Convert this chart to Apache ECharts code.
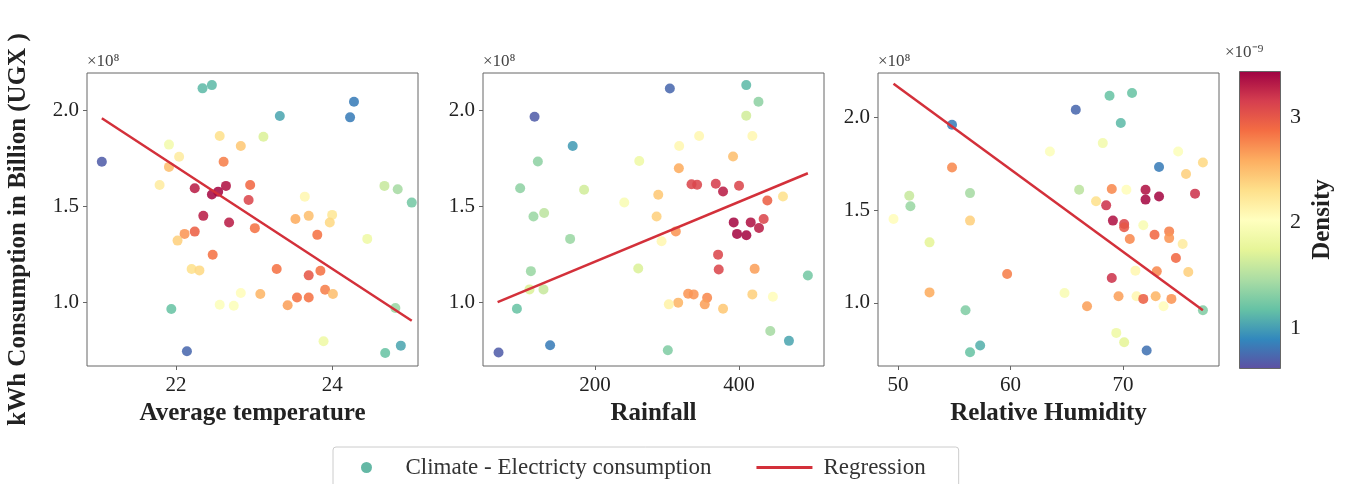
<!DOCTYPE html>
<html>
<head>
<meta charset="utf-8">
<script src="https://cdn.jsdelivr.net/npm/echarts@6/dist/echarts.min.js"></script>
<style>
  html, body { margin: 0; padding: 0; background: #fff; }
  #main { width: 1351px; height: 484px; }
</style>
</head>
<body>
<div id="main"></div>
<script>
// consumption in units of 1e8, density in units of 1e-9
// [x, consumption, density]
var tempPoints = [
  [22.34, 2.113, 1.15], [22.46, 2.13, 1.15], [24.28, 2.043, 0.85], [24.23, 1.962, 0.85],
  [23.33, 1.969, 1.05], [23.12, 1.861, 1.7], [22.56, 1.865, 2.3], [22.83, 1.813, 2.45],
  [21.91, 1.82, 1.9], [22.04, 1.757, 2.2], [21.05, 1.731, 0.7], [21.91, 1.704, 2.5],
  [22.61, 1.731, 2.8], [21.79, 1.61, 2.2], [22.24, 1.593, 3.3], [22.46, 1.56, 3.4],
  [22.54, 1.575, 3.4], [22.64, 1.605, 3.35], [22.95, 1.61, 2.9], [22.93, 1.532, 3.1],
  [22.35, 1.449, 3.3], [22.68, 1.414, 3.3], [23.01, 1.385, 2.85], [22.24, 1.367, 2.95],
  [22.11, 1.355, 2.7], [22.02, 1.32, 2.4], [23.65, 1.549, 2.1], [23.53, 1.433, 2.6],
  [23.70, 1.449, 2.5], [24.0, 1.454, 2.25], [23.97, 1.414, 2.35], [23.81, 1.35, 2.85],
  [24.45, 1.329, 1.85], [24.67, 1.605, 1.6], [24.84, 1.588, 1.45], [25.02, 1.518, 1.25],
  [22.47, 1.246, 2.85], [22.2, 1.172, 2.3], [22.3, 1.165, 2.35], [23.29, 1.172, 2.85],
  [23.70, 1.139, 3.0], [23.85, 1.163, 2.85], [22.83, 1.047, 2.05], [23.08, 1.042, 2.55],
  [22.56, 0.986, 2.0], [22.74, 0.981, 2.0], [23.43, 0.983, 2.65], [23.55, 1.024, 2.85],
  [23.70, 1.024, 2.85], [23.91, 1.064, 2.8], [24.01, 1.042, 2.5], [24.81, 0.969, 1.4],
  [21.94, 0.964, 1.2], [22.14, 0.744, 0.75], [23.89, 0.796, 1.85], [24.68, 0.735, 1.2],
  [24.88, 0.773, 1.05]
];
var rainPoints = [
  [66, 0.737, 0.7], [137.6, 0.775, 0.85], [116, 1.965, 0.7], [303.9, 2.112, 0.75],
  [410, 2.13, 1.15], [427, 2.043, 1.35], [410, 1.971, 1.65], [169, 1.813, 1.0],
  [120.6, 1.732, 1.35], [96, 1.593, 1.35], [114.5, 1.446, 1.4], [129.3, 1.464, 1.55],
  [184.8, 1.585, 1.65], [165.4, 1.329, 1.4], [261.4, 1.735, 1.85], [240.6, 1.519, 1.95],
  [110.9, 1.161, 1.4], [109, 1.066, 1.7], [128.4, 1.066, 1.6], [91.5, 0.965, 1.2],
  [260, 1.175, 1.7], [287.8, 1.559, 2.45], [285.5, 1.446, 2.4], [292.4, 1.317, 2.1],
  [316.4, 1.697, 2.6], [316.9, 1.813, 2.1], [344.6, 1.865, 2.1], [312.2, 1.368, 2.7],
  [334, 1.614, 3.1], [341.8, 1.611, 3.1], [367.7, 1.616, 3.15], [377.8, 1.576, 3.3],
  [400, 1.606, 3.1], [391.7, 1.758, 2.5], [418.5, 1.865, 2.1], [439.3, 1.529, 2.95],
  [461, 1.55, 2.3], [392.6, 1.415, 3.4], [416.2, 1.415, 3.35], [427.7, 1.386, 3.3],
  [434.2, 1.433, 3.1], [397.2, 1.355, 3.4], [410.2, 1.348, 3.4], [370.9, 1.247, 3.1],
  [371.8, 1.17, 3.1], [421.7, 1.173, 2.65], [329.3, 1.043, 2.7], [337, 1.04, 2.7],
  [355.7, 1.022, 2.75], [352.4, 0.988, 2.65], [315.5, 0.997, 2.55], [302.5, 0.988, 2.15],
  [377.8, 0.965, 2.45], [418.5, 1.04, 2.4], [447, 1.028, 2.05], [495.6, 1.138, 1.25],
  [443.4, 0.849, 1.45], [469.3, 0.798, 1.05], [301.1, 0.749, 1.3]
];
var humidPoints = [
  [49.6, 1.452, 2.05], [51.0, 1.577, 1.6], [51.1, 1.52, 1.4], [52.8, 1.326, 1.75],
  [52.8, 1.057, 2.6], [54.8, 1.959, 0.85], [54.8, 1.729, 2.75], [56.4, 1.591, 1.45],
  [56.4, 1.443, 2.4], [56.0, 0.961, 1.3], [56.4, 0.735, 1.2], [57.3, 0.771, 1.1],
  [59.7, 1.156, 2.8], [63.5, 1.815, 2.0], [64.8, 1.054, 1.95], [65.8, 2.039, 0.75],
  [66.1, 1.609, 1.55], [66.8, 0.982, 2.65], [68.8, 2.115, 1.2], [70.8, 2.129, 1.2],
  [69.8, 1.968, 1.15], [68.2, 1.86, 1.9], [74.9, 1.815, 2.0], [73.2, 1.731, 0.85],
  [75.6, 1.694, 2.4], [77.1, 1.756, 2.35], [69.0, 1.613, 2.75], [70.3, 1.609, 2.05],
  [72.0, 1.609, 3.35], [72.0, 1.556, 3.4], [73.2, 1.573, 3.4], [76.4, 1.588, 3.2],
  [68.5, 1.525, 3.2], [67.6, 1.547, 2.3], [69.1, 1.443, 3.35], [70.1, 1.425, 3.1],
  [70.1, 1.407, 3.0], [70.6, 1.344, 2.75], [71.8, 1.418, 1.95], [72.8, 1.367, 2.9],
  [74.1, 1.385, 2.8], [74.1, 1.349, 2.7], [75.3, 1.317, 2.2], [74.7, 1.242, 2.9],
  [71.1, 1.174, 2.1], [73.0, 1.170, 2.75], [75.8, 1.167, 2.4], [69.0, 1.134, 3.2],
  [69.6, 1.036, 2.65], [71.2, 1.036, 2.1], [71.8, 1.022, 2.95], [72.9, 1.036, 2.55],
  [74.3, 1.022, 2.7], [73.6, 0.982, 2.05], [77.1, 0.961, 1.3], [69.4, 0.839, 1.85],
  [70.1, 0.789, 1.75], [72.1, 0.744, 0.8]
];

// regression line end points
var tempFit = [[21.05, 1.957], [25.02, 0.903]];
var rainFit = [[64.7, 1.0], [495.6, 1.671]];
var humidFit = [[49.6, 2.179], [77.1, 0.961]];

var tempTicks = [22, 24];
var rainTicks = [200, 400];
var humidTicks = [50, 60, 70];
var yTicks = [1.0, 1.5, 2.0];
var densityTicks = [1, 2, 3];

var spectralR = ['#5e4fa2', '#3288bd', '#66c2a5', '#abdda4', '#e6f598', '#ffffbf',
                 '#fee08b', '#fdae61', '#f46d43', '#d53e4f', '#9e0142'];
var densMin = 0.62, densMax = 3.44;

var serif = 'Liberation Serif';
var txt = '#222';
var edge = '#666';

function xAx(idx, min, max, ticks, name) {
  return {
    type: 'value', gridIndex: idx, min: min, max: max,
    name: name, nameLocation: 'middle', nameGap: 26,
    nameTextStyle: {fontFamily: serif, fontSize: 25, fontWeight: 'bold', color: txt},
    axisLine: {show: false},
    axisTick: {show: true, length: 4, customValues: ticks, lineStyle: {color: edge}},
    axisLabel: {customValues: ticks, margin: 9, fontFamily: serif, fontSize: 21, color: txt},
    splitLine: {show: false}
  };
}
function yAx(idx, min, max) {
  return {
    type: 'value', gridIndex: idx, min: min, max: max,
    name: '×10⁸', nameLocation: 'end', nameGap: 3,
    nameTextStyle: {fontFamily: serif, fontSize: 17, color: '#444', align: 'left', verticalAlign: 'bottom'},
    axisLine: {show: false},
    axisTick: {show: true, length: 4, customValues: yTicks, lineStyle: {color: edge}},
    axisLabel: {customValues: yTicks, margin: 8, fontFamily: serif, fontSize: 21, color: txt,
      formatter: function (v) { return v.toFixed(1); }},
    splitLine: {show: false}
  };
}

var chart = echarts.init(document.getElementById('main'));

var gridBase = {show: true, borderColor: edge, borderWidth: 1, backgroundColor: 'transparent'};
var grids = [
  Object.assign({left: 87, top: 73, width: 331, height: 293}, gridBase),
  Object.assign({left: 483, top: 73, width: 341, height: 293}, gridBase),
  Object.assign({left: 878, top: 73, width: 341, height: 293}, gridBase),
  {left: 1239, top: 71, width: 41, height: 297, show: false}
];

var yTitle = {
  type: 'value', gridIndex: 0, min: 0.667, max: 2.193, position: 'left',
  name: 'kWh Consumption in Billion (UGX )', nameLocation: 'middle', nameGap: 56,
  nameTextStyle: {fontFamily: serif, fontSize: 25, fontWeight: 'bold', color: txt, padding: [0, 20, 0, 0]},
  axisLine: {show: false}, axisTick: {show: false}, axisLabel: {show: false}, splitLine: {show: false}
};

function scatter(idx, pts) {
  return {
    name: 'Climate - Electricty consumption', type: 'scatter',
    xAxisIndex: idx, yAxisIndex: idx, data: pts, symbolSize: 10,
    itemStyle: {opacity: 0.88}, z: 2
  };
}
function fit(idx, pts) {
  return {
    name: 'Regression', type: 'line', xAxisIndex: idx, yAxisIndex: idx,
    data: pts, symbol: 'none', lineStyle: {color: '#d3303a', width: 2.5},
    itemStyle: {color: '#d3303a'}, z: 5
  };
}

var gradStops = spectralR.map(function (c, i) {
  return {offset: 1 - i / (spectralR.length - 1), color: c};
});

chart.setOption({
  animation: false,
  grid: grids,
  xAxis: [
    xAx(0, 20.86, 25.10, tempTicks, 'Average temperature'),
    xAx(1, 44.4, 518, rainTicks, 'Rainfall'),
    xAx(2, 48.22, 78.53, humidTicks, 'Relative Humidity'),
    {type: 'value', gridIndex: 3, min: 0, max: 1, show: false}
  ],
  yAxis: [
    yAx(0, 0.667, 2.193),
    yAx(1, 0.667, 2.193),
    yAx(2, 0.661, 2.237),
    {
      type: 'value', gridIndex: 3, min: densMin, max: densMax, position: 'right',
      name: 'Density', nameLocation: 'middle', nameGap: 30, nameRotate: 90,
      nameTextStyle: {fontFamily: serif, fontSize: 25, fontWeight: 'bold', color: txt},
      axisLine: {show: false},
      axisTick: {show: true, length: 4, customValues: densityTicks, lineStyle: {color: edge}},
      axisLabel: {customValues: densityTicks, margin: 10, fontFamily: serif, fontSize: 22, color: txt},
      splitLine: {show: false}
    },
    yTitle
  ],
  visualMap: {
    show: false, type: 'continuous', min: densMin, max: densMax, dimension: 2,
    seriesIndex: [0, 1, 2], inRange: {color: spectralR}
  },
  legend: {
    left: 333, top: 447, padding: [9, 33, 9, 28], itemGap: 45,
    itemWidth: 56, itemHeight: 11,
    borderColor: '#ccc', borderWidth: 1, borderRadius: 3,
    textStyle: {fontFamily: serif, fontSize: 23, color: '#333', padding: [0, 0, 0, 6]},
    data: [
      {name: 'Climate - Electricty consumption', icon: 'circle', itemStyle: {color: '#4fae98'}},
      {name: 'Regression', icon: 'path://M0,0H56V3H0Z', itemStyle: {color: '#d3303a'}}
    ]
  },
  graphic: [
    {
      type: 'rect', left: 1239, top: 71, z: 10,
      shape: {width: 41, height: 297},
      style: {
        fill: new echarts.graphic.LinearGradient(0, 0, 0, 1, gradStops),
        stroke: edge, lineWidth: 1
      }
    },
    {
      type: 'text', left: 1225, top: 44, z: 10,
      style: {text: '×10⁻⁹', fontFamily: serif, fontSize: 17, fill: '#444'}
    }
  ],
  series: [
    scatter(0, tempPoints), scatter(1, rainPoints), scatter(2, humidPoints),
    fit(0, tempFit), fit(1, rainFit), fit(2, humidFit)
  ]
});
</script>
</body>
</html>
